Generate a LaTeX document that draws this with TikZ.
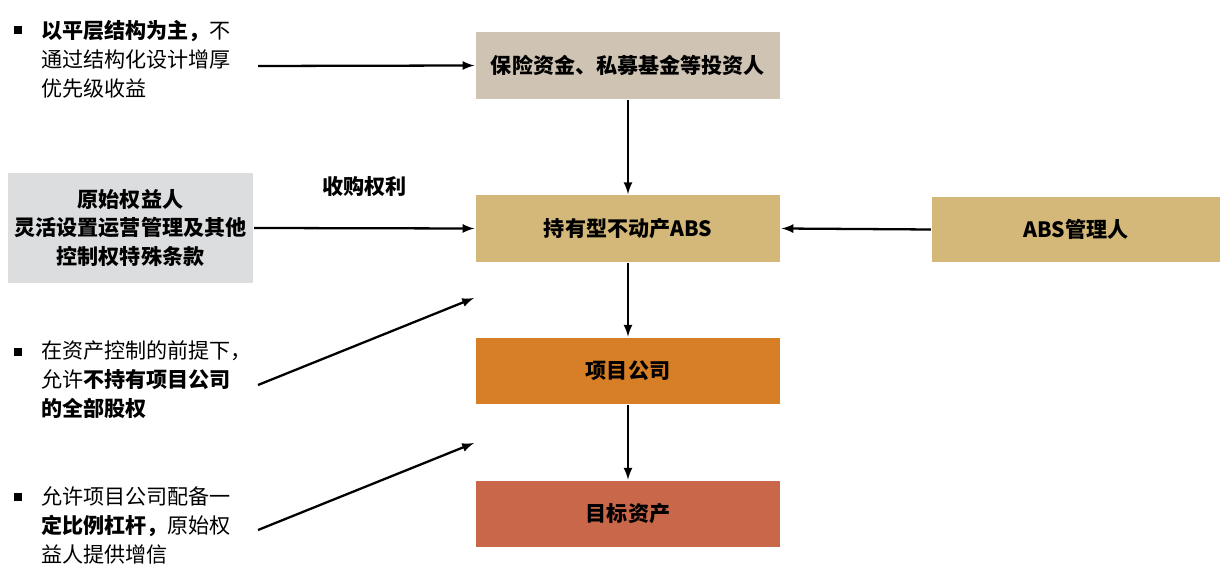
\documentclass[tikz,border=0pt]{standalone}
\usepackage{fontspec}
\setmainfont{Noto Sans CJK SC}
\usepackage{tikz}
\usetikzlibrary{calc}

\definecolor{investorcol}{HTML}{CFC3B4}
\definecolor{abscol}{HTML}{D3B87A}
\definecolor{companycol}{HTML}{D67F26}
\definecolor{assetcol}{HTML}{C8674A}
\definecolor{ownercol}{HTML}{DCDDDF}

\begin{document}
\begin{tikzpicture}[x=0.02cm, y=-0.02cm, line width=1.3pt, >=latex,
    box/.style = {minimum width=6.1cm, minimum height=1.33cm, inner sep=0pt,
                  font=\fontsize{12}{16}\selectfont\bfseries},
    note/.style = {anchor=west, align=left, inner sep=0pt,
                   font=\fontsize{12}{16.5}\selectfont},
    bullet/.style = {fill=black, minimum size=0.17cm, inner sep=0pt}]
  \useasboundingbox (0,0) rectangle (1227,573);

  \node[box, fill=investorcol] (inv) at (628,65.5) {保险资金、私募基金等投资人};
  \node[box, fill=abscol] (abs) at (628,228.5) {持有型不动产ABS};
  \node[box, fill=abscol, minimum width=5.76cm, minimum height=1.3cm] (mgr) at (1076,229.5) {ABS管理人};
  \node[box, fill=companycol] (proj) at (628,371) {项目公司};
  \node[box, fill=assetcol] (tgt) at (628,514) {目标资产};
  \node[box, fill=ownercol, minimum width=4.9cm, minimum height=2.2cm, align=center,
        font=\fontsize{12}{16}\selectfont\bfseries] (owner) at (130.5,228)
        {原始权益人\\灵活设置运营管理及其他\\控制权特殊条款};

  \node[bullet] (b1) at (18,30) {};
  \node[note] (n1) at (40,59) {{\bfseries 以平层结构为主，}不\\通过结构化设计增厚\\优先级收益};
  \node[bullet] (b2) at (18,352) {};
  \node[note] (n2) at (40,380) {在资产控制的前提下，\\允许{\bfseries 不持有项目公司}\\{\bfseries 的全部股权}};
  \node[bullet] (b3) at (18,497) {};
  \node[note] (n3) at (40,525) {允许项目公司配备一\\{\bfseries 定比例杠杆，}原始权\\益人提供增信};

  \coordinate (s1) at (258,66);
  \coordinate (s2) at (258,385);
  \coordinate (e2) at (474,298);
  \coordinate (s3) at (258,530);
  \coordinate (e3) at (474,443);

  \draw[->] (s1) -- (inv.west);
  \draw[->] (owner.east) -- node[above=0.5cm, font=\fontsize{12}{14}\selectfont\bfseries]{收购权利} (abs.west);
  \draw[->] (mgr.west) -- (abs.east);
  \draw[->] (inv.south) -- (abs.north);
  \draw[->] (abs.south) -- (proj.north);
  \draw[->] (proj.south) -- (tgt.north);
  \draw[->] (s2) -- (e2);
  \draw[->] (s3) -- (e3);
\end{tikzpicture}
\end{document}
